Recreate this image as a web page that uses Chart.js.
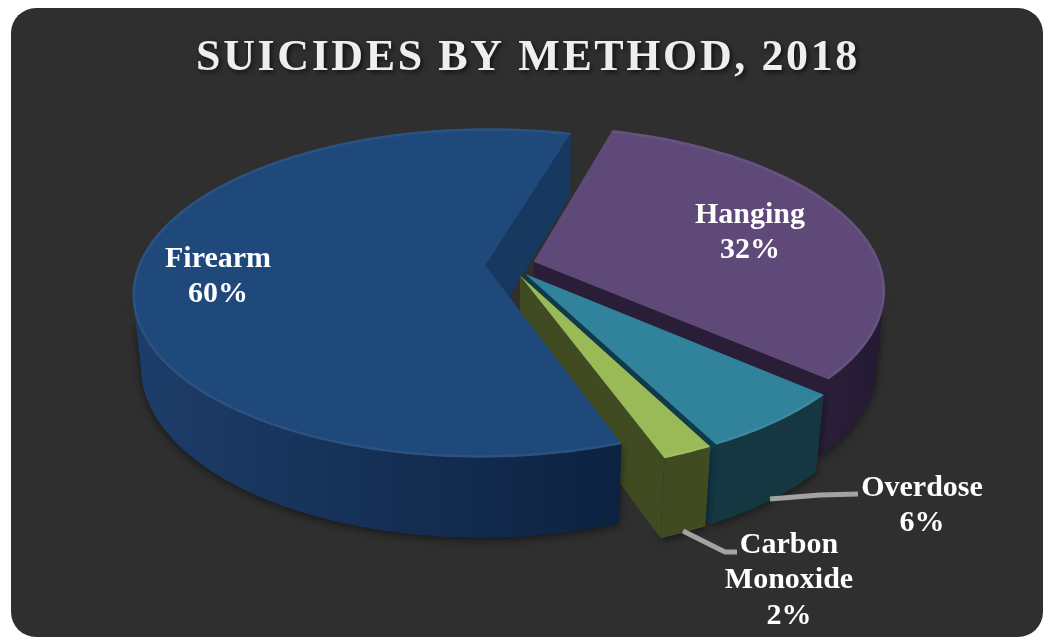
<!DOCTYPE html>
<html>
<head>
<meta charset="utf-8">
<title>Suicides by method, 2018</title>
<script src="https://cdn.jsdelivr.net/npm/chart.js@4"></script>
<style>
    html, body { margin: 0; padding: 0; background: #fff; overflow: hidden; }
    #card { position: absolute; left: 11px; top: 8px; width: 1032px; height: 629px; background: #2f2f2f; border-radius: 25px; }
    #pie { position: absolute; left: 0; top: 0; }
</style>
</head>
<body>
<div id="card"></div>
<canvas id="pie" width="1043" height="637"></canvas>
<script>
const chartTitle = 'SUICIDES BY METHOD, 2018';
const categories = ['Firearm', 'Hanging', 'Overdose', 'Carbon Monoxide'];
const shares = [60, 32, 6, 2];

const topColors = ['#1f487b', '#5f4979', '#31829b', '#9aba58'];
const faceColors = ['#17385f', '#2a1d38', '#0f3a4a', '#404b21'];
const wallColors = [['#1d3d69', '#0d2241'], ['#2a1d38', '#241a33'], ['#143742', '#143742'], ['#404b21', '#404b21']];

// label centres, in page pixels
const labelX = [218, 750, 922, 789];
const labelY = [259, 215, 488, 545];
const labelLineHeight = 35.5;

const leaderLines = [
    [[770, 499], [820, 495], [858, 494]],
    [[683, 531], [725, 552], [737, 552]]
];

// perspective of the tilted disc
const view = { cx: 510, cy: 265, a: 347, b: 160, k: 0.167, d: 72.6, m: 0.022 };

function project(u, v, z) {
    const w = 1 - view.k * v + view.m * z;
    return [view.cx + view.a * u / w, view.cy + (view.b * v + view.d * z) / w];
}

function tracePoints(ctx, pts) {
    ctx.beginPath();
    pts.forEach((p, i) => i ? ctx.lineTo(p[0], p[1]) : ctx.moveTo(p[0], p[1]));
    ctx.closePath();
}

function sliceGeometry(arc) {
    const mid = (arc.startAngle + arc.endAngle) / 2;
    const e = arc.options.offset / arc.outerRadius;
    const ou = e * Math.cos(mid);
    const ov = e * Math.sin(mid);
    const rim = [];
    const steps = Math.ceil((arc.endAngle - arc.startAngle) / 0.01);
    for (let i = 0; i <= steps; i++) {
        const t = arc.startAngle + (arc.endAngle - arc.startAngle) * i / steps;
        rim.push({ u: ou + Math.cos(t), v: ov + Math.sin(t), c: Math.cos(t), s: Math.sin(t) });
    }
    return { ou, ov, rim };
}

function drawEndFace(ctx, g, i) {
    const last = g.rim[g.rim.length - 1];
    tracePoints(ctx, [
        project(g.ou, g.ov, 0), project(last.u, last.v, 0),
        project(last.u, last.v, 1), project(g.ou, g.ov, 1)
    ]);
    ctx.fillStyle = faceColors[i];
    ctx.fill();
}

function drawWall(ctx, g, i) {
    // only the part of the rim which faces the viewer
    const seen = g.rim.filter(p => -p.u * p.c + (1 / view.k - p.v) * p.s > 0);
    if (!seen.length) return;
    const top = seen.map(p => project(p.u, p.v, 0));
    const bottom = seen.map(p => project(p.u, p.v, 1)).reverse();
    const xs = top.map(p => p[0]);
    const grad = ctx.createLinearGradient(Math.min(...xs), 0, Math.max(...xs), 0);
    grad.addColorStop(0, wallColors[i][0]);
    grad.addColorStop(1, wallColors[i][1]);
    ctx.save();
    ctx.shadowColor = 'rgba(0,0,0,0.55)';
    ctx.shadowBlur = 9;
    ctx.shadowOffsetY = 2;
    tracePoints(ctx, top.concat(bottom));
    ctx.fillStyle = grad;
    ctx.fill();
    ctx.restore();
}

function drawTop(ctx, g, i) {
    const rim = g.rim.map(p => project(p.u, p.v, 0));
    tracePoints(ctx, [project(g.ou, g.ov, 0)].concat(rim));
    ctx.fillStyle = topColors[i];
    ctx.fill();
    // soft bevel along the rim
    ctx.save();
    ctx.clip();
    ctx.beginPath();
    rim.forEach((p, n) => n ? ctx.lineTo(p[0], p[1]) : ctx.moveTo(p[0], p[1]));
    ctx.strokeStyle = 'rgba(255,255,255,0.06)';
    ctx.lineWidth = 5;
    ctx.stroke();
    ctx.restore();
}

function drawLabels(ctx) {
    ctx.save();
    ctx.strokeStyle = '#a3a3a3';
    ctx.lineWidth = 5;
    ctx.lineJoin = 'round';
    leaderLines.forEach(line => {
        ctx.beginPath();
        line.forEach((p, n) => n ? ctx.lineTo(p[0], p[1]) : ctx.moveTo(p[0], p[1]));
        ctx.stroke();
    });
    ctx.font = 'bold 30px "Liberation Serif"';
    ctx.fillStyle = '#ffffff';
    ctx.textAlign = 'center';
    ctx.textBaseline = 'middle';
    categories.forEach((name, i) => {
        const lines = name.split(' ').concat(shares[i] + '%');
        lines.forEach((text, n) => ctx.fillText(text, labelX[i], labelY[i] + n * labelLineHeight));
    });
    ctx.restore();
}

const pie3d = {
    id: 'pie3d',
    beforeDraw(chart) {
        // letter spacing and shadow for the title only
        const ctx = chart.ctx;
        ctx.save();
        ctx.letterSpacing = '2.6px';
        ctx.shadowColor = 'rgba(0,0,0,0.7)';
        ctx.shadowBlur = 5;
        ctx.shadowOffsetX = 2;
        ctx.shadowOffsetY = 2;
    },
    beforeDatasetsDraw(chart) {
        const ctx = chart.ctx;
        ctx.restore();
        const arcs = chart.getDatasetMeta(0).data;
        const parts = arcs.map(sliceGeometry);

        drawEndFace(ctx, parts[0], 0);
        [1, 2, 3].forEach(i => {
            drawWall(ctx, parts[i], i);
            drawEndFace(ctx, parts[i], i);
            drawTop(ctx, parts[i], i);
        });
        drawWall(ctx, parts[0], 0);
        drawTop(ctx, parts[0], 0);

        drawLabels(ctx);
        return false;
    }
};

new Chart(document.getElementById('pie'), {
    type: 'pie',
    data: {
        labels: categories,
        datasets: [{
            data: shares,
            backgroundColor: topColors,
            borderWidth: 0,
            offset: 18
        }]
    },
    options: {
        responsive: false,
        animation: false,
        rotation: 160,
        layout: { padding: { left: 13 } },
        plugins: {
            legend: { display: false },
            tooltip: { enabled: false },
            title: {
                display: true,
                text: chartTitle,
                color: '#eeeeee',
                font: { family: '"Liberation Serif"', size: 44, weight: 'bold' },
                padding: { top: 32, bottom: 28 }
            }
        }
    },
    plugins: [pie3d]
});
</script>
</body>
</html>
